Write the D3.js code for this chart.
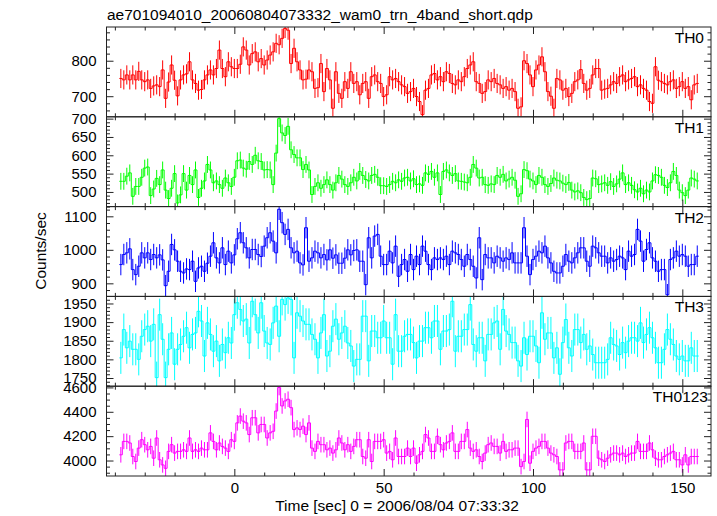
<!DOCTYPE html>
<html><head><meta charset="utf-8">
<script src="https://cdn.jsdelivr.net/npm/d3@7"></script>
<style>
body{margin:0;background:#fff}
svg text{font-family:"Liberation Sans",Arial,Helvetica,sans-serif;fill:#000}
</style>
</head><body>
<svg id="c" width="717" height="516"></svg>
<script>
// ---------------- data ----------------
const times = [-38,-37,-36,-35,-34,-33,-32,-31,-30,-29,-28,-27,-26,-25,-24,-23,-22,-21,-20,-19,
-18,-17,-16,-15,-14,-13,-12,-11,-10,-9,-8,-7,-6,-5,-4,-3,-2,-1,0,1,
2,3,4,5,6,7,8,9,10,11,12,13,14,15,16,17,18,19,20,21,
22,23,24,25,26,27,28,29,30,31,32,33,34,35,36,37,38,39,40,41,
42,43,44,45,46,47,48,49,50,51,52,53,54,55,56,57,58,59,60,61,
62,63,64,65,66,67,68,69,70,71,72,73,74,75,76,77,78,79,80,81,
82,83,84,85,86,87,88,89,90,91,92,93,94,95,96,97,98,99,100,101,
102,103,104,105,106,107,108,109,110,111,112,113,114,115,116,117,118,119,120,121,
122,123,124,125,126,127,128,129,130,131,132,133,134,135,136,137,138,139,140,141,
142,143,144,145,146,147,148,149,150,151,152,153,154,155];
const binWidth = 1;

const th0 = [750,746,760,746,760,746,770,746,741,746,
722,729,732,727,774,694,740,788,745,701,
746,760,763,797,746,736,717,719,746,760,
774,760,778,830,778,755,797,783,778,778,
790,839,830,788,820,825,797,806,788,802,
816,825,849,845,863,891,886,792,835,797,
774,746,748,774,769,722,724,792,713,778,
746,666,769,708,694,741,722,769,736,741,
704,736,741,694,755,760,741,736,699,704,
755,746,750,741,732,727,708,713,722,699,
685,648,717,722,760,764,746,755,741,769,
764,736,732,746,741,755,778,788,797,741,
736,708,713,746,741,750,736,732,722,727,
717,722,713,666,670,800,792,760,727,774,
788,811,769,713,700,666,750,746,717,722,
699,708,741,746,775,736,717,722,760,778,
778,717,720,722,732,741,736,755,760,741,
746,750,755,727,732,722,717,685,680,783,
745,741,736,732,741,746,722,727,741,722,
727,690,732,736];

const th1 = [529,529,543,552,488,515,515,540,565,568,
490,508,537,520,560,505,482,510,550,470,
492,550,505,545,520,560,485,510,530,575,
560,525,530,520,510,538,525,515,540,585,
587,565,562,583,575,600,585,583,560,561,
560,520,606,700,661,654,679,615,602,593,
593,561,575,560,493,515,525,510,520,533,
520,505,525,545,535,520,515,525,540,530,
556,545,534,530,545,548,540,517,517,515,
520,529,525,533,529,538,540,530,536,520,
522,518,552,548,556,540,552,493,556,560,
552,545,550,530,529,527,525,540,575,565,
538,540,520,518,522,520,545,540,548,530,
535,540,532,488,495,561,558,535,530,520,
545,540,520,515,523,538,532,530,524,520,
526,505,500,503,498,485,479,482,538,536,
520,522,525,518,528,515,522,535,552,520,
525,518,506,500,510,495,505,500,530,547,
545,540,518,512,525,556,545,505,498,490,
505,538,535,530];

const th2 = [956,986,991,1003,941,926,951,991,976,991,
971,986,976,985,970,893,936,1016,1000,966,
936,931,943,941,966,906,946,951,936,960,
981,1021,976,961,1006,956,996,961,985,1033,
1051,1021,1006,976,1001,1001,986,980,1011,1036,
1051,1026,991,1121,1081,1046,1061,1006,991,996,
961,955,1066,966,976,996,991,976,986,970,
1000,975,985,960,960,975,1000,985,998,1000,
966,966,896,1036,976,1041,1046,981,956,956,
996,961,1011,921,956,971,936,986,941,981,
956,1011,996,956,941,976,971,976,971,981,
956,996,991,986,971,951,986,971,951,916,
1036,911,986,976,976,961,981,976,966,976,
971,991,961,961,961,1066,981,926,971,981,
996,991,1011,976,961,936,931,931,951,986,
966,961,976,991,1006,1006,966,951,1011,1006,
991,981,981,961,976,966,971,981,976,941,
996,981,986,1061,1026,966,1001,1021,976,966,
936,941,941,866,971,976,996,981,986,981,
951,956,956,981];

const th3 = [1804,1880,1831,1849,1827,1827,1800,1862,1880,1889,
1849,1894,1751,1920,1854,1751,1827,1871,1787,1827,
1840,1862,1885,1831,1867,1871,1929,1903,1809,1898,
1867,1822,1849,1796,1840,1818,1858,1844,1920,1952,
1934,1903,1908,1844,1956,1920,1871,1952,1876,1844,
1840,1898,1943,1862,1961,1947,1965,1961,1804,1925,
1916,1903,1894,1894,1867,1854,1804,1871,1920,1809,
1822,1889,1908,1854,1871,1889,1844,1836,1782,1800,
1800,1916,1916,1796,1876,1876,1858,1858,1903,1858,
1858,1787,1920,1822,1822,1862,1867,1867,1845,1804,
1849,1849,1885,1885,1858,1903,1903,1827,1876,1876,
1880,1956,1822,1862,1862,1880,1880,1947,1840,1822,
1858,1858,1796,1867,1867,1898,1903,1827,1934,1876,
1867,1845,1845,1796,1782,1858,1813,1862,1862,1836,
1791,1925,1854,1871,1871,1804,1831,1760,1845,1907,
1831,1809,1880,1880,1845,1867,1827,1836,1813,1791,
1791,1791,1791,1800,1858,1840,1836,1813,1845,1818,
1849,1858,1858,1849,1898,1845,1867,1885,1858,1831,
1791,1791,1827,1880,1854,1840,1809,1800,1809,1796,
1796,1831,1809,1809];

const th0123 = [4047,4157,4157,4144,4033,3992,4102,4171,4130,4088,
4116,4019,4185,4006,3964,3936,4075,4130,4061,4075,
4075,4088,4075,4185,4075,4088,4075,4102,4088,4088,
4227,4157,4088,4144,4116,4102,4075,4171,4157,4309,
4365,4323,4309,4213,4351,4351,4227,4296,4296,4185,
4227,4240,4406,4599,4448,4489,4503,4434,4254,4268,
4254,4282,4213,4309,4102,4075,4157,4130,4130,4088,
4102,4061,4088,4185,4144,4088,4130,4075,4116,4171,
4171,4033,4019,4171,3992,4157,4157,4157,4171,4061,
4075,4006,4185,4033,4033,4033,4102,4033,4102,3978,
4047,4075,4213,4185,4075,4075,4199,4130,4088,4144,
4157,4227,4075,4075,4157,4157,4254,4102,4075,4088,
4033,3992,4061,4130,4144,4116,4116,4061,4157,4075,
4088,4088,4102,4102,3950,3992,4337,3978,4075,4102,
4116,4157,4157,4102,4061,4047,4033,3923,3923,4144,
4157,4157,4075,4075,4075,4144,3923,3923,4199,4199,
4019,4006,3992,4019,4047,4061,4061,4047,4061,4033,
4047,4061,4061,4157,4075,4075,4075,4144,4088,4019,
4006,4006,4033,4047,4061,4075,4006,4006,3964,4047,
3964,4033,4033,4033];

const panelNames = ["TH0","TH1","TH2","TH3","TH0123"];
const panelColors = ["#ff0000","#00ff00","#0000ff","#00ffff","#ff00ff"];
const errHalf = [27,23,32,43,64];
const yDomains = [[642,895],[460,705],[861,1129],[1728,1969],[3873,4610]];
const yLabelTicks = [[700,800],[500,550,600,650,700],[900,1000,1100],[1750,1800,1850,1900,1950],[4000,4200,4400,4600]];
const yMinorStep = [20,10,20,10,50];
const xDomain = [-42.8,159.6];
const xLabelTicks = [0,50,100,150];
const xMinorStep = 10;
const titleText = "ae701094010_20060804073332_wam0_trn_4band_short.qdp";
const xTitle = "Time [sec] 0 = 2006/08/04 07:33:32";
const yTitle = "Counts/sec";

// ---------------- drawing ----------------
const series = [th0, th1, th2, th3, th0123];
const left = 106.5, right = 711, top0 = 27, panelH = 89.8;
const frameColor = "#222";
const svg = d3.select("#c");
const x = d3.scaleLinear().domain(xDomain).range([left, right]);
const intFmt = d3.format("d");

const xMinor = d3.range(Math.ceil(xDomain[0]/xMinorStep)*xMinorStep, xDomain[1], xMinorStep)
  .filter(v => !xLabelTicks.includes(v));

function styleAxis(g){
  g.select(".domain").remove();
  g.selectAll(".tick line").attr("stroke", frameColor);
  g.attr("font-family", null).attr("font-size", null);
  g.selectAll("text").style("font-size","15px");
}

series.forEach((vals, i) => {
  const top = top0 + i*panelH, bottom = top + panelH;
  const y = d3.scaleLinear().domain(yDomains[i]).range([bottom, top]);
  const color = panelColors[i];
  const e = errHalf[i];

  const clipId = "clip" + i;
  svg.append("clipPath").attr("id", clipId).append("rect")
    .attr("x", left).attr("y", top).attr("width", right-left).attr("height", panelH);
  const g = svg.append("g").attr("clip-path", `url(#${clipId})`);

  g.append("g").selectAll("line").data(vals).join("line")
    .attr("x1", (d,j) => x(times[j])).attr("x2", (d,j) => x(times[j]))
    .attr("y1", d => y(d - e)).attr("y2", d => y(d + e))
    .attr("stroke", color).attr("stroke-width", 1);

  const pts = [];
  vals.forEach((v,j) => { pts.push([times[j]-binWidth/2, v]); pts.push([times[j]+binWidth/2, v]); });
  g.append("path").attr("d", d3.line().x(d => x(d[0])).y(d => y(d[1]))(pts))
    .attr("fill","none").attr("stroke", color).attr("stroke-width", 1);

  const yMinor = d3.range(Math.ceil(yDomains[i][0]/yMinorStep[i])*yMinorStep[i], yDomains[i][1], yMinorStep[i])
    .filter(v => !yLabelTicks[i].includes(v));
  svg.append("g").attr("transform",`translate(${left},0)`)
    .call(d3.axisLeft(y).tickValues(yLabelTicks[i]).tickSize(-7).tickPadding(10).tickFormat(intFmt)).call(styleAxis);
  svg.append("g").attr("transform",`translate(${left},0)`)
    .call(d3.axisLeft(y).tickValues(yMinor).tickSize(-3.5).tickFormat("")).call(styleAxis);
  svg.append("g").attr("transform",`translate(${right},0)`)
    .call(d3.axisRight(y).tickValues(yLabelTicks[i]).tickSize(-7).tickFormat("")).call(styleAxis);
  svg.append("g").attr("transform",`translate(${right},0)`)
    .call(d3.axisRight(y).tickValues(yMinor).tickSize(-3.5).tickFormat("")).call(styleAxis);

  const last = i === series.length - 1;
  svg.append("g").attr("transform",`translate(0,${bottom})`)
    .call(d3.axisBottom(x).tickValues(xLabelTicks).tickSize(-7).tickPadding(6).tickFormat(last ? intFmt : ""))
    .call(styleAxis);
  svg.append("g").attr("transform",`translate(0,${bottom})`)
    .call(d3.axisBottom(x).tickValues(xMinor).tickSize(-3.5).tickFormat("")).call(styleAxis);
  svg.append("g").attr("transform",`translate(0,${top})`)
    .call(d3.axisTop(x).tickValues(xLabelTicks).tickSize(-7).tickFormat("")).call(styleAxis);
  svg.append("g").attr("transform",`translate(0,${top})`)
    .call(d3.axisTop(x).tickValues(xMinor).tickSize(-3.5).tickFormat("")).call(styleAxis);

  svg.append("rect").attr("x", left).attr("y", top).attr("width", right-left).attr("height", panelH)
    .attr("fill","none").attr("stroke", frameColor).attr("stroke-width", 1);

  svg.append("text").attr("x", panelNames[i].length > 3 ? right - 3 : right - 7).attr("y", top + 16)
    .attr("text-anchor","end").style("font-size","15.5px").text(panelNames[i]);
});

svg.append("text").attr("x", 107).attr("y", 20).style("font-size","15.5px").text(titleText);
svg.append("text").attr("x", 397).attr("y", 511).attr("text-anchor","middle").style("font-size","15.5px").text(xTitle);
svg.append("text").attr("transform", `translate(46,251) rotate(-90)`).attr("text-anchor","middle")
  .style("font-size","15.5px").text(yTitle);
</script>
</body></html>
